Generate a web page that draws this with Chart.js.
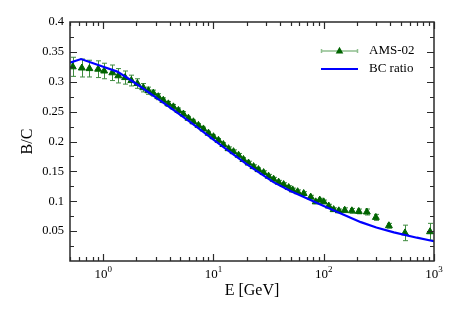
<!DOCTYPE html>
<html>
<head>
<meta charset="utf-8">
<script src="https://cdn.jsdelivr.net/npm/chart.js@4"></script>
<style>
  html, body { margin: 0; padding: 0; background: #fff; }
  canvas { display: block; }
</style>
</head>
<body>
<canvas id="bcChart" width="467" height="327"></canvas>
<script>
// AMS-02 B/C data
const amsEnergy = [0.53, 0.64, 0.75, 0.90, 1.02, 1.21, 1.37, 1.58, 1.80, 2.04,
  2.31, 2.57, 2.85, 3.16, 3.51, 3.90, 4.33, 4.81, 5.34, 5.93,
  6.58, 7.31, 8.11, 9.01, 10.0, 11.1, 12.3, 13.7, 15.2, 16.9,
  18.7, 20.8, 23.1, 25.6, 28.5, 31.6, 35.1, 39.0, 43.3, 48.1,
  52.3, 58.0, 65.8, 76.2, 84.6, 92.0, 100, 111, 123, 137,
  155, 180, 208, 246, 297, 390, 545, 920];
const amsRatio = [0.325, 0.323, 0.322, 0.321, 0.318, 0.315, 0.310, 0.307, 0.302, 0.297,
  0.290, 0.285, 0.281, 0.275, 0.269, 0.263, 0.258, 0.252, 0.246, 0.239,
  0.233, 0.227, 0.221, 0.214, 0.208, 0.202, 0.195, 0.188, 0.183, 0.177,
  0.170, 0.164, 0.158, 0.153, 0.148, 0.142, 0.137, 0.132, 0.128, 0.123,
  0.119, 0.116, 0.113, 0.107, 0.099, 0.102, 0.099, 0.092, 0.086, 0.084,
  0.085, 0.084, 0.083, 0.082, 0.073, 0.059, 0.047, 0.049];
const amsError = [0.016, 0.015, 0.014, 0.014, 0.013, 0.013, 0.012, 0.011, 0.009, 0.008,
  0.007, 0.006, 0.005, 0.005, 0.004, 0.004, 0.004, 0.004, 0.004, 0.003,
  0.003, 0.003, 0.003, 0.003, 0.003, 0.003, 0.003, 0.003, 0.003, 0.003,
  0.003, 0.003, 0.003, 0.003, 0.003, 0.003, 0.003, 0.003, 0.003, 0.003,
  0.003, 0.003, 0.003, 0.003, 0.003, 0.003, 0.003, 0.003, 0.003, 0.003,
  0.004, 0.004, 0.004, 0.005, 0.005, 0.004, 0.013, 0.014];

// model curve
const modelEnergy = [0.5, 0.63, 1.0, 1.34, 1.7, 2.17, 3.0, 4.33, 6.0, 7.6,
  10, 14, 20, 25, 35, 50, 70, 100, 150, 217, 300, 433, 700, 1000];
const modelRatio = [0.332, 0.338, 0.325, 0.317, 0.305, 0.292, 0.274, 0.253, 0.234, 0.220,
  0.203, 0.183, 0.162, 0.150, 0.132, 0.117, 0.105, 0.092, 0.078, 0.065, 0.056, 0.048, 0.039, 0.033];

const xMajor = [1, 10, 100, 1000];
const xExponents = ["0", "1", "2", "3"];
const yMin = 0, yMax = 0.4, yStep = 0.05, yMinorStep = 0.025;

const serif = "'Liberation Serif', 'Times New Roman', serif";
const frameColor = "#2a2a2a";

const amsPoints = amsEnergy.map((e, i) => ({ x: e, y: amsRatio[i] }));
const modelPoints = modelEnergy.map((e, i) => ({ x: e, y: modelRatio[i] }));

// vertical error bars under the triangles
const errorBars = {
  id: "errorBars",
  beforeDatasetsDraw(chart) {
    const { ctx, scales: { x, y } } = chart;
    ctx.save();
    ctx.strokeStyle = "#3f8c3f";
    ctx.lineWidth = 1;
    amsEnergy.forEach((e, i) => {
      const px = Math.round(x.getPixelForValue(e)) + 0.5;
      const top = y.getPixelForValue(amsRatio[i] + amsError[i]);
      const bot = y.getPixelForValue(amsRatio[i] - amsError[i]);
      ctx.beginPath();
      ctx.moveTo(px, top); ctx.lineTo(px, bot);
      ctx.moveTo(px - 2.5, top); ctx.lineTo(px + 2.5, top);
      ctx.moveTo(px - 2.5, bot); ctx.lineTo(px + 2.5, bot);
      ctx.stroke();
    });
    ctx.restore();
  }
};

// box, inward ticks on all sides, x labels with exponents, legend
const frameAndLegend = {
  id: "frameAndLegend",
  afterDraw(chart) {
    const { ctx, chartArea: a, scales: { x, y } } = chart;
    ctx.save();
    ctx.strokeStyle = frameColor;
    ctx.lineWidth = 1.5;
    ctx.strokeRect(a.left, a.top, a.right - a.left, a.bottom - a.top);

    ctx.lineWidth = 1.2;
    ctx.beginPath();
    // x ticks
    for (let d = 0.1; d <= 1000; d *= 10) {
      for (let m = 1; m <= 9; m++) {
        const v = m * d;
        if (v < 0.5 || v > 1000) continue;
        const px = Math.round(x.getPixelForValue(v)) + 0.5;
        const len = m === 1 ? 7 : 4;
        ctx.moveTo(px, a.bottom); ctx.lineTo(px, a.bottom - len);
        ctx.moveTo(px, a.top); ctx.lineTo(px, a.top + len);
      }
    }
    // y ticks
    for (let v = yMin + yMinorStep; v < yMax - 1e-9; v += yMinorStep) {
      const py = Math.round(y.getPixelForValue(v)) + 0.5;
      const major = Math.abs(v / yStep - Math.round(v / yStep)) < 1e-6;
      const len = major ? 7 : 4;
      ctx.moveTo(a.left, py); ctx.lineTo(a.left + len, py);
      ctx.moveTo(a.right, py); ctx.lineTo(a.right - len, py);
    }
    ctx.stroke();

    // x tick labels 10^n
    ctx.fillStyle = "#000";
    ctx.textBaseline = "alphabetic";
    xMajor.forEach((v, i) => {
      const px = x.getPixelForValue(v);
      ctx.font = "13px " + serif;
      const wBase = ctx.measureText("10").width;
      ctx.font = "9px " + serif;
      const wExp = ctx.measureText(xExponents[i]).width;
      const start = px - (wBase + wExp) / 2;
      ctx.font = "13px " + serif;
      ctx.textAlign = "left";
      ctx.fillText("10", start, a.bottom + 17);
      ctx.font = "9px " + serif;
      ctx.fillText(xExponents[i], start + wBase, a.bottom + 11);
    });

    // legend
    const lx0 = a.right - 113, lx1 = a.right - 76;
    const row1 = a.top + 29, row2 = a.top + 47;
    ctx.strokeStyle = "#8fbf8f";
    ctx.lineWidth = 1.5;
    ctx.beginPath();
    ctx.moveTo(lx0, row1); ctx.lineTo(lx1, row1);
    ctx.moveTo(lx0 + 0.5, row1 - 2); ctx.lineTo(lx0 + 0.5, row1 + 2);
    ctx.moveTo(lx1 - 0.5, row1 - 2); ctx.lineTo(lx1 - 0.5, row1 + 2);
    ctx.stroke();
    const cx = (lx0 + lx1) / 2;
    ctx.fillStyle = "#006400";
    ctx.beginPath();
    ctx.moveTo(cx, row1 - 4.2); ctx.lineTo(cx + 3.8, row1 + 2.4); ctx.lineTo(cx - 3.8, row1 + 2.4);
    ctx.closePath();
    ctx.fill();

    ctx.strokeStyle = "#0000ff";
    ctx.lineWidth = 2;
    ctx.beginPath();
    ctx.moveTo(lx0, row2); ctx.lineTo(lx1, row2);
    ctx.stroke();

    ctx.fillStyle = "#000";
    ctx.font = "13px " + serif;
    ctx.textAlign = "left";
    ctx.textBaseline = "middle";
    ctx.fillText("AMS-02", lx1 + 11, row1);
    ctx.fillText("BC ratio", lx1 + 11, row2);
    ctx.restore();
  }
};

new Chart(document.getElementById("bcChart"), {
  type: "scatter",
  data: {
    datasets: [
      {
        label: "BC ratio",
        type: "line",
        data: modelPoints,
        borderColor: "#0000ff",
        borderWidth: 2.2,
        pointRadius: 0,
        fill: false,
        tension: 0,
        order: 0,
      },
      {
        label: "AMS-02",
        data: amsPoints,
        pointStyle: "triangle",
        pointRadius: 4,
        pointBorderWidth: 1,
        backgroundColor: "#006400",
        borderColor: "#006400",
        order: 1,
      },
    ],
  },
  options: {
    responsive: false,
    animation: false,
    layout: { padding: { top: 22, right: 33, left: 0, bottom: 0 } },
    plugins: { legend: { display: false }, tooltip: { enabled: false } },
    scales: {
      x: {
        type: "logarithmic",
        min: 0.5,
        max: 1000,
        grid: { display: false, drawTicks: false },
        border: { display: false },
        ticks: { display: false },
        afterBuildTicks: (s) => { s.ticks = xMajor.map((v) => ({ value: v })); },
        afterFit: (s) => { s.height = 66; },
        title: {
          display: true,
          text: "E [GeV]",
          color: "#000",
          font: { family: serif, size: 16 },
          padding: { top: 0, bottom: 27 },
        },
      },
      y: {
        min: yMin,
        max: yMax,
        grid: { display: false, drawTicks: false },
        border: { display: false },
        ticks: {
          stepSize: yStep,
          padding: 6,
          color: "#000",
          font: { family: serif, size: 12.5 },
          callback: (v) => (v === 0 ? "" : String(+v.toFixed(2))),
        },
        afterFit: (s) => { s.width = 70; },
        title: {
          display: true,
          text: "B/C",
          color: "#000",
          font: { family: serif, size: 16 },
          padding: { top: 18, bottom: 0 },
        },
      },
    },
  },
  plugins: [errorBars, frameAndLegend],
});
</script>
</body>
</html>
